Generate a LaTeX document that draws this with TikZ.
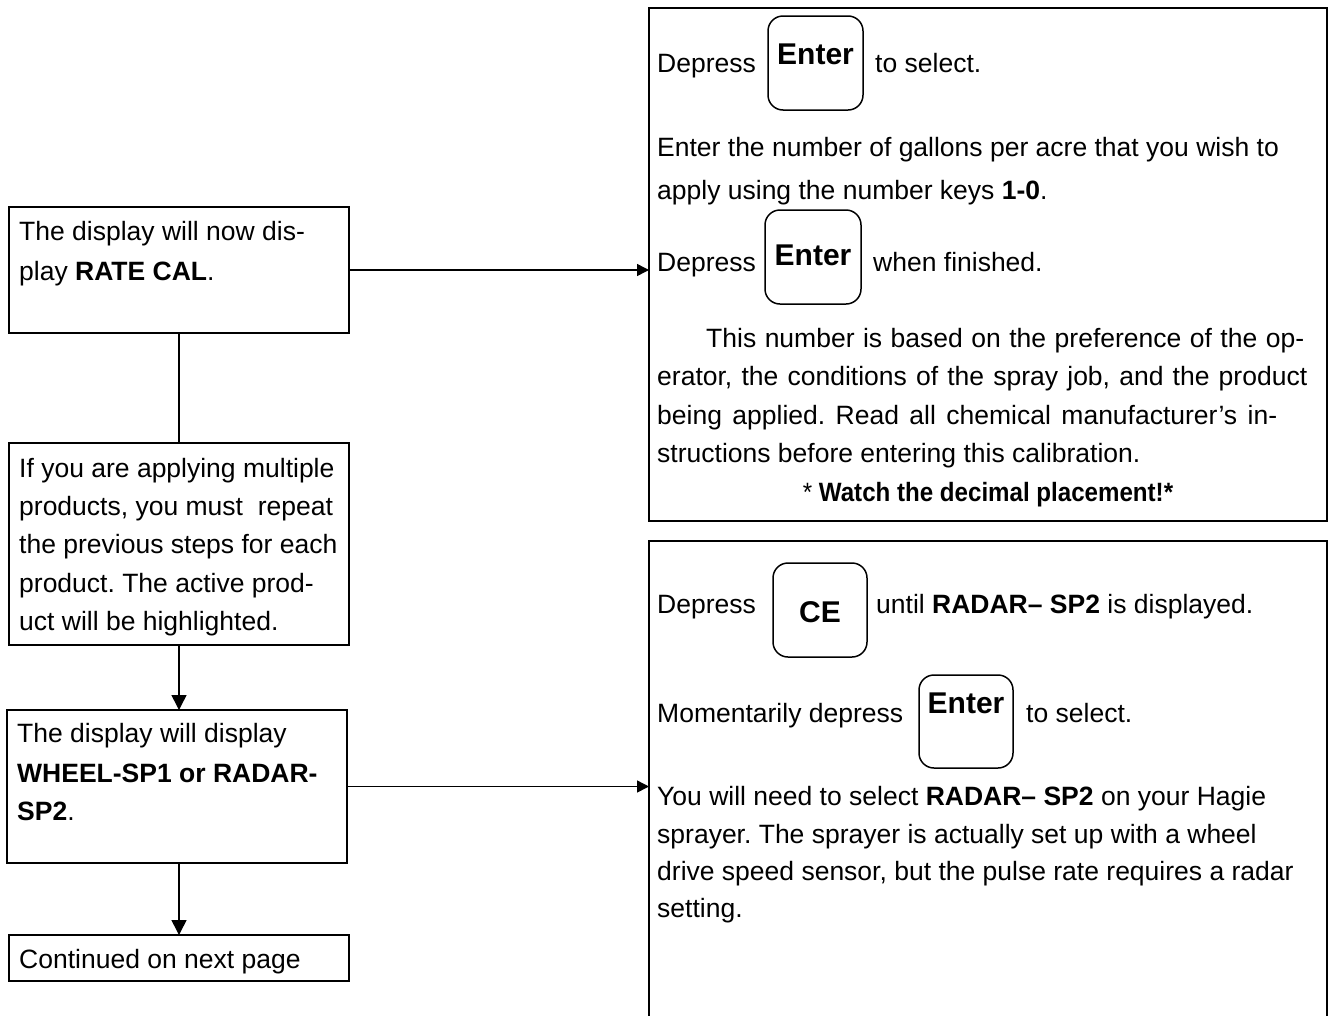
\documentclass[tikz,border=0pt]{standalone}
\usepackage{fontspec}
\setmainfont{Liberation Sans}
\usetikzlibrary{arrows.meta}
\frenchspacing
\begin{document}
\begin{tikzpicture}[x=1pt,y=-1pt,
  box/.style={draw, line width=2pt, inner sep=0pt, outer sep=0pt, anchor=north west},
  keybox/.style={draw, line width=1.5pt, rounded corners=15pt, inner sep=0pt, outer sep=0pt, anchor=north west},
  txt/.style={inner sep=0pt, anchor=base west, font=\fontsize{26.5}{38.5}\selectfont},
  ctxt/.style={inner sep=0pt, anchor=base, font=\fontsize{26.5}{38.5}\selectfont},
  keytxt/.style={inner sep=0pt, anchor=base, font=\fontsize{30}{36}\selectfont\bfseries},
  conn/.style={line width=1.5pt},
  varr/.style={conn, -{Triangle[width=15pt,length=15pt]}},
  harr/.style={conn, -{Triangle[width=12pt,length=12pt]}}]
\useasboundingbox (0,0) rectangle (1329,1015);
\clip (0,0) rectangle (1329,1015);

% left column boxes
\node[box, minimum width=340pt, minimum height=126pt] (b1) at (9,207) {};
\node[box, minimum width=340pt, minimum height=202pt] (b2) at (9,443) {};
\node[box, minimum width=340pt, minimum height=153pt] (b3) at (7,710) {};
\node[box, minimum width=340pt, minimum height=46pt] (b4) at (9,935) {};

% right boxes
\node[box, minimum width=678pt, minimum height=513pt] (r1) at (649,8) {};
\node[box, minimum width=678pt, minimum height=520pt] (r2) at (649,541) {};

% key boxes
\node[keybox, minimum width=95pt, minimum height=94pt] (k1) at (768,16) {};
\node[keybox, minimum width=96pt, minimum height=94pt] (k2) at (765,210) {};
\node[keybox, minimum width=94pt, minimum height=94pt] (kce) at (773,563) {};
\node[keybox, minimum width=94pt, minimum height=93pt] (k3) at (919,675) {};
\node[keytxt] (k1t) at (815.5,64) {Enter};
\node[keytxt] (k2t) at (813,265) {Enter};
\node[keytxt] (kcet) at (820,622) {CE};
\node[keytxt] (k3t) at (966,713) {Enter};

% left texts
\node[txt] (t1a) at (19,240) {The display will now dis-};
\node[txt] (t1b) at (19,280) {play \textbf{RATE CAL}.};
\node[txt] (t2a) at (19,477) {If you are applying multiple};
\node[txt] (t2b) at (19,515) {products, you must\ \ repeat};
\node[txt] (t2c) at (19,553) {the previous steps for each};
\node[txt] (t2d) at (19,592) {product. The active prod-};
\node[txt] (t2e) at (19,630) {uct will be highlighted.};
\node[txt] (t3a) at (17,742) {The display will display};
\node[txt] (t3b) at (17,782) {\textbf{WHEEL-SP1 or RADAR-}};
\node[txt] (t3c) at (17,820) {\textbf{SP2}.};
\node[txt] (t4a) at (19,968) {Continued on next page};

% right box 1 texts
\node[txt] (r1a) at (657,72) {Depress};
\node[txt] (r1b) at (875,72) {to select.};
\node[txt] (r1c) at (657,156) {Enter the number of gallons per acre that you wish to};
\node[txt] (r1d) at (657,199) {apply using the number keys \textbf{1-0}.};
\node[txt] (r1e) at (657,271) {Depress};
\node[txt] (r1f) at (873,271) {when finished.};
\node[txt] (r1g) at (706,347) {\makebox[598pt][s]{This number is based on the preference of the op-}};
\node[txt] (r1h) at (657,385.5) {\makebox[650pt][s]{erator, the conditions of the spray job, and the product}};
\node[txt] (r1i) at (657,424) {\makebox[620pt][s]{being applied. Read all chemical manufacturer’s in-}};
\node[txt] (r1j) at (657,462.5) {structions before entering this calibration.};
\node[ctxt] (r1k) at (988,501) {\scalebox{0.91}[1]{* \textbf{Watch the decimal placement!*}}};

% right box 2 texts
\node[txt] (r2a) at (657,613) {Depress};
\node[txt] (r2b) at (876,613) {until \textbf{RADAR– SP2} is displayed.};
\node[txt] (r2c) at (657,722) {Momentarily depress};
\node[txt] (r2d) at (1026,722) {to select.};
\node[txt] (r2e) at (657,805) {You will need to select \textbf{RADAR– SP2} on your Hagie};
\node[txt] (r2f) at (657,843) {sprayer. The sprayer is actually set up with a wheel};
\node[txt] (r2g) at (657,880) {drive speed sensor, but the pulse rate requires a radar};
\node[txt] (r2h) at (657,917) {setting.};

% connectors
\draw[conn] (b1.south) -- (b2.north);
\draw[varr] (b2.south) -- (b2.south |- b3.north);
\draw[varr] (b3.south -| b2.south) -- (b2.south |- b4.north);
\draw[harr] (b1.east) -- (b1.east -| r1.west);
\draw[harr] (b3.east) -- (b3.east -| r2.west);
\end{tikzpicture}
\end{document}
